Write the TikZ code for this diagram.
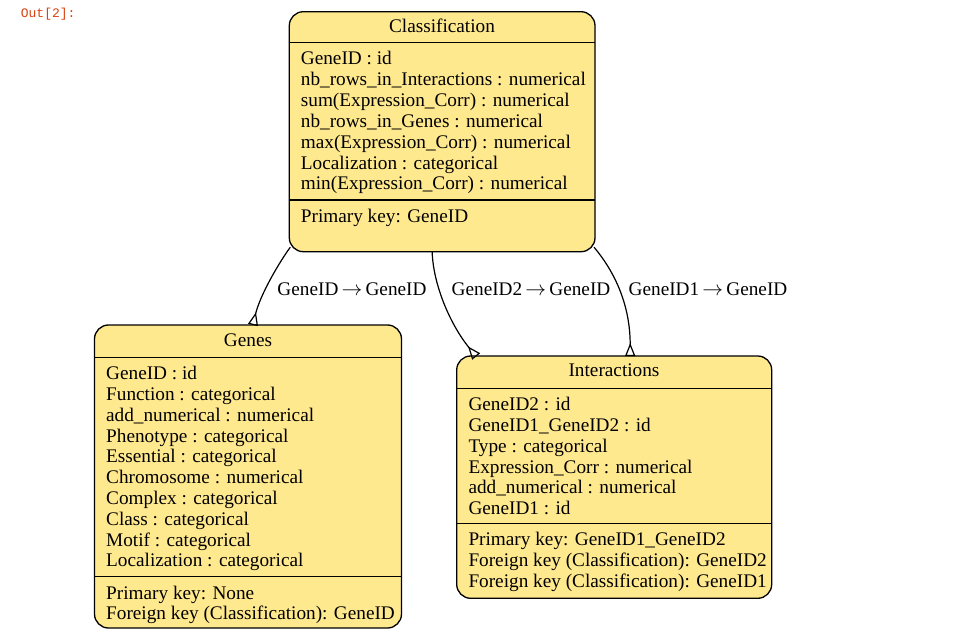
\documentclass[tikz,border=0pt]{standalone}
\usepackage{fontspec}
\setmainfont{Liberation Serif}
\setmonofont{Liberation Mono}
\usetikzlibrary{arrows.meta,calc}
\definecolor{boxfill}{HTML}{FFE98F}
\definecolor{promptcol}{HTML}{D84315}
\newcommand\myarr{\,$\rightarrow$\,}
\begin{document}
\begin{tikzpicture}[x=1pt,y=-1pt,
  tbl/.style={draw, line width=1.3pt, fill=boxfill, rounded corners=14pt, inner sep=0pt, outer sep=0pt, anchor=north west},
  txt/.style={font=\fontsize{19.25}{20.8}\selectfont, inner sep=0pt, anchor=base west},
  ttl/.style={font=\fontsize{19.25}{20.8}\selectfont, inner sep=0pt, anchor=base},
  lbl/.style={font=\fontsize{19.25}{20.8}\selectfont, inner sep=0pt, anchor=base},
  rule/.style={line width=1.3pt},
  fk/.style={line width=1.2pt, -{Triangle[open,reversed,length=13pt,width=10pt]}}]
\useasboundingbox (0,0) rectangle (970,642);
\fill[white] (0,0) rectangle (970,642);

\node[font=\ttfamily\fontsize{13}{15}\selectfont, text=promptcol, anchor=base west, inner sep=0pt] (prompt) at (20.7,17.5) {Out[2]:};

% Classification
\node[tbl, minimum width=305.7pt, minimum height=240pt] (cls) at (289.3,11.7) {};
\draw[rule] ($(cls.north west)+(0,31)$) -- ($(cls.north east)+(0,31)$);
\draw[rule] ($(cls.north west)+(0,188.3)$) -- ($(cls.north east)+(0,188.3)$);
\node[ttl] (cls-t) at (442,32.5) {Classification};
\foreach \t [count=\i from 0] in {GeneID : id, nb\_rows\_in\_Interactions : numerical, sum(Expression\_Corr) : numerical, nb\_rows\_in\_Genes : numerical, max(Expression\_Corr) : numerical, Localization : categorical, min(Expression\_Corr) : numerical}
  \node[txt] (cls-a\i) at (300.7,{65+20.8*\i}) {\t};
\node[txt] (cls-k0) at (300.7,222.3) {Primary key: GeneID};

% Genes
\node[tbl, minimum width=307pt, minimum height=303pt] (genes) at (94.5,325) {};
\draw[rule] ($(genes.north west)+(0,32.3)$) -- ($(genes.north east)+(0,32.3)$);
\draw[rule] ($(genes.north west)+(0,251.7)$) -- ($(genes.north east)+(0,251.7)$);
\node[ttl] (genes-t) at (248,346) {Genes};
\foreach \t [count=\i from 0] in {GeneID : id, Function : categorical, add\_numerical : numerical, Phenotype : categorical, Essential : categorical, Chromosome : numerical, Complex : categorical, Class : categorical, Motif : categorical, Localization : categorical}
  \node[txt] (genes-a\i) at (106,{379.6+20.8*\i}) {\t};
\node[txt] (genes-k0) at (106,599) {Primary key: None};
\node[txt] (genes-k1) at (106,619.8) {Foreign key (Classification): GeneID};

% Interactions
\node[tbl, minimum width=315pt, minimum height=242.3pt] (inter) at (456.7,356) {};
\draw[rule] ($(inter.north west)+(0,32.3)$) -- ($(inter.north east)+(0,32.3)$);
\draw[rule] ($(inter.north west)+(0,167.3)$) -- ($(inter.north east)+(0,167.3)$);
\node[ttl] (inter-t) at (614,376.8) {Interactions};
\foreach \t [count=\i from 0] in {GeneID2 : id, GeneID1\_GeneID2 : id, Type : categorical, Expression\_Corr : numerical, add\_numerical : numerical, GeneID1 : id}
  \node[txt] (inter-a\i) at (468.3,{410.6+20.8*\i}) {\t};
\foreach \t [count=\i from 0] in {Primary key: GeneID1\_GeneID2, Foreign key (Classification): GeneID2, Foreign key (Classification): GeneID1}
  \node[txt] (inter-k\i) at (468.3,{545.6+20.8*\i}) {\t};

% connectors
\draw[fk] ($(cls.south west)+(1,-4.5)$) .. controls +(-11,15) and +(7,-30) .. ($(genes.north)+(5,0)$);
\draw[fk] ($(cls.south)+(-10,0)$) .. controls +(1,33) and +(-26,-32) .. ($(inter.north west)+(19.5,0.5)$);
\draw[fk] ($(cls.south east)+(-1,-4.5)$) .. controls +(21,25) and +(0,-51) .. ($(inter.north)+(16,0)$);

\node[lbl] (l1) at (352,295) {GeneID\myarr GeneID};
\node[lbl] (l2) at (531,295) {GeneID2\myarr GeneID};
\node[lbl] (l3) at (708,295) {GeneID1\myarr GeneID};
\end{tikzpicture}
\end{document}
